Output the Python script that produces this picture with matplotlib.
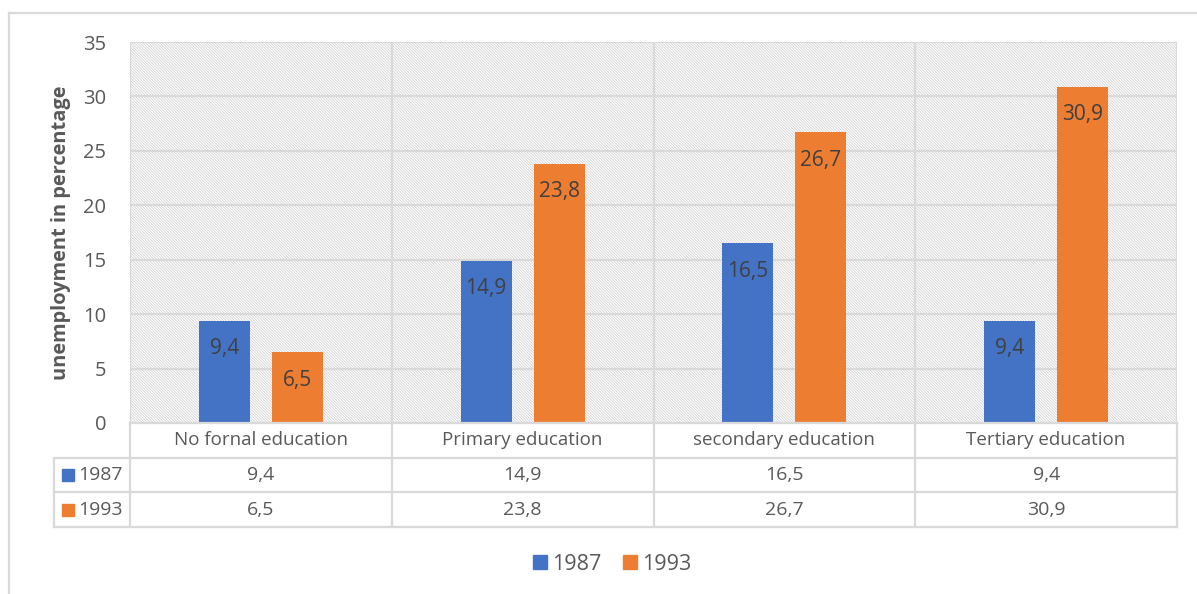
import matplotlib
matplotlib.use('Agg')
import matplotlib.pyplot as plt
from matplotlib.patches import Rectangle
from matplotlib.lines import Line2D

categories = ['No fornal education', 'Primary education', 'secondary education', 'Tertiary education']
years = ['1987', '1993']
values_1987 = [9.4, 14.9, 16.5, 9.4]
values_1993 = [6.5, 23.8, 26.7, 30.9]
y_ticks = [0, 5, 10, 15, 20, 25, 30, 35]

colors = ['#4472C4', '#ED7D31']
text_color = '#595959'
grid_color = '#d9d9d9'

plt.rcParams['font.family'] = ['Open Sans', 'DejaVu Sans']
plt.rcParams['hatch.linewidth'] = 0.6

W, H = 1197, 594
fig = plt.figure(figsize=(W / 100, H / 100), dpi=100)

# pixel layout of the plot area and the data table
left, right, top, zero = 130, 1177, 42, 423
table_left, table_bottom = 54, 527


def fx(px):
    return px / W


def fy(py):
    return 1 - py / H


ax = fig.add_axes([fx(left), fy(zero), fx(right - left), (zero - top) / H])
ax.set_xlim(-0.5, 3.5)
ax.set_ylim(0, 35)

# hatched background
ax.add_patch(Rectangle((0, 0), 1, 1, transform=ax.transAxes, facecolor='white',
                       edgecolor='#d2d2d2', hatch='\\' * 12, linewidth=0, zorder=0))

for t in y_ticks[1:]:
    ax.axhline(t, color=grid_color, lw=1.6, zorder=1)
for i in range(5):
    ax.axvline(i - 0.5, color=grid_color, lw=1.6, zorder=1)

bar_w = 0.195
offset = 0.1395
series = [values_1987, values_1993]
for k, vals in enumerate(series):
    xs = [i + (k * 2 - 1) * offset for i in range(len(categories))]
    bars = ax.bar(xs, vals, width=bar_w, color=colors[k], zorder=3)
    for b, v in zip(bars, vals):
        ax.annotate(f'{v:.1f}'.replace('.', ','), (b.get_x() + b.get_width() / 2, v),
                    xytext=(0, -20), textcoords='offset points', ha='center', va='center',
                    fontsize=15, color='#404040', zorder=4)

ax.set_yticks(y_ticks)
ax.set_yticklabels([str(t) for t in y_ticks], fontsize=14.5, color=text_color)
ax.tick_params(axis='y', length=0, pad=17)
ax.set_xticks([])
for s in ax.spines.values():
    s.set_visible(False)
ax.set_ylabel('unemployment in percentage', fontsize=14.4, fontweight='bold',
              color=text_color, labelpad=9)

# data table under the plot
cat_px = (right - left) / 4
tax = fig.add_axes([fx(table_left), fy(table_bottom), fx(right - table_left), (table_bottom - zero) / H])
tax.set_xlim(-0.5 - (left - table_left) / cat_px, 3.5)
tax.set_ylim(3, 0)
tax.axis('off')
x0 = -0.5 - (left - table_left) / cat_px

line_kw = dict(color=grid_color, lw=1.6, clip_on=False)
for r in (1, 2, 3):
    tax.add_line(Line2D([x0, 3.5], [r, r], **line_kw))
tax.add_line(Line2D([-0.5, 3.5], [0, 0], **line_kw))
tax.add_line(Line2D([x0, x0], [1, 3], **line_kw))
for i in range(5):
    tax.add_line(Line2D([i - 0.5, i - 0.5], [0, 3], **line_kw))

for i, c in enumerate(categories):
    tax.text(i, 0.5, c, ha='center', va='center', fontsize=13.5, color=text_color)
for k, vals in enumerate(series):
    row = k + 1.5
    for i, v in enumerate(vals):
        tax.text(i, row, f'{v:.1f}'.replace('.', ','), ha='center', va='center',
                 fontsize=14, color=text_color)
    tax.add_patch(Rectangle((x0 + 8 / cat_px, row - 0.17), 12 / cat_px, 0.34,
                            color=colors[k], clip_on=False))
    tax.text(x0 + 24 / cat_px, row, years[k], ha='left', va='center',
             fontsize=14, color=text_color)

# legend
handles = [Rectangle((0, 0), 1, 1, color=c) for c in colors]
fig.legend(handles, years, loc='center', bbox_to_anchor=(fx(612), fy(564)), ncol=2,
           frameon=False, fontsize=15.5, handlelength=0.65, handleheight=0.65,
           handletextpad=0.25, columnspacing=1.0, labelcolor=text_color)

# chart frame
fig.add_artist(Line2D([fx(9), 1], [fy(13), fy(13)], color=grid_color, lw=1.6))
fig.add_artist(Line2D([fx(9), fx(9)], [fy(13), 0], color=grid_color, lw=1.6))

fig.savefig('out.png', dpi=100)
